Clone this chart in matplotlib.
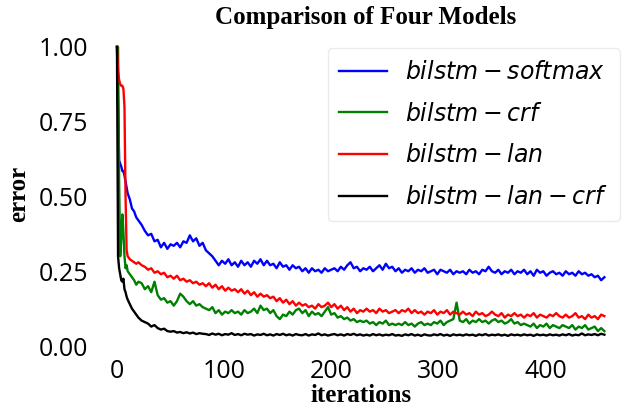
import matplotlib
matplotlib.use("Agg")
import matplotlib.pyplot as plt

iterations = list(range(0, 11)) + list(range(12, 21, 2)) + list(range(23, 456, 3))

softmax_err = [1.00, 0.80, 0.62, 0.61, 0.60, 0.585, 0.585, 0.57, 0.55, 0.53, 0.51, 0.49, 0.46, 0.45, 0.43, 0.42,
    0.405, 0.385, 0.37, 0.375, 0.35, 0.355, 0.33, 0.345, 0.325, 0.34,
    0.335, 0.345, 0.33, 0.35, 0.345, 0.37, 0.35, 0.36, 0.335, 0.345,
    0.32, 0.31, 0.30, 0.285, 0.27, 0.285, 0.275, 0.29, 0.27, 0.28,
    0.265, 0.285, 0.27, 0.28, 0.265, 0.285, 0.275, 0.29, 0.27, 0.285,
    0.27, 0.275, 0.26, 0.28, 0.265, 0.27, 0.255, 0.27, 0.26, 0.265,
    0.25, 0.26, 0.245, 0.26, 0.25, 0.255, 0.245, 0.26, 0.25, 0.255,
    0.26, 0.25, 0.265, 0.255, 0.27, 0.28, 0.26, 0.265, 0.25, 0.26,
    0.255, 0.265, 0.25, 0.26, 0.27, 0.255, 0.275, 0.26, 0.265, 0.25,
    0.26, 0.245, 0.255, 0.25, 0.26, 0.245, 0.255, 0.25, 0.26, 0.245,
    0.25, 0.255, 0.24, 0.255, 0.25, 0.245, 0.255, 0.24, 0.25, 0.245,
    0.25, 0.24, 0.255, 0.245, 0.25, 0.24, 0.255, 0.25, 0.265, 0.25,
    0.245, 0.255, 0.24, 0.25, 0.245, 0.255, 0.24, 0.25, 0.245, 0.255,
    0.24, 0.25, 0.235, 0.255, 0.245, 0.25, 0.235, 0.245, 0.25, 0.24,
    0.245, 0.235, 0.25, 0.24, 0.245, 0.235, 0.25, 0.24, 0.245, 0.235,
    0.24, 0.23, 0.235, 0.22, 0.23]

crf_err = [1.00, 1.00, 0.55, 0.30, 0.36, 0.44, 0.38, 0.30, 0.26, 0.27, 0.25, 0.24, 0.23, 0.22, 0.205, 0.215,
    0.21, 0.19, 0.20, 0.18, 0.215, 0.17, 0.155, 0.16, 0.145, 0.15,
    0.135, 0.15, 0.175, 0.165, 0.15, 0.14, 0.15, 0.135, 0.14, 0.13,
    0.125, 0.12, 0.13, 0.11, 0.12, 0.105, 0.115, 0.11, 0.12, 0.11,
    0.115, 0.105, 0.12, 0.11, 0.115, 0.125, 0.11, 0.135, 0.12, 0.125,
    0.11, 0.12, 0.10, 0.09, 0.105, 0.10, 0.115, 0.105, 0.12, 0.125,
    0.11, 0.12, 0.10, 0.115, 0.105, 0.11, 0.10, 0.115, 0.13, 0.105,
    0.11, 0.095, 0.10, 0.09, 0.095, 0.085, 0.09, 0.08, 0.085, 0.08,
    0.085, 0.075, 0.08, 0.07, 0.08, 0.075, 0.085, 0.07, 0.075, 0.07,
    0.075, 0.07, 0.08, 0.07, 0.075, 0.065, 0.075, 0.08, 0.07, 0.075,
    0.07, 0.08, 0.075, 0.085, 0.07, 0.08, 0.085, 0.09, 0.145, 0.085,
    0.08, 0.09, 0.075, 0.085, 0.08, 0.09, 0.08, 0.085, 0.075, 0.085,
    0.09, 0.08, 0.085, 0.075, 0.08, 0.09, 0.075, 0.08, 0.07, 0.075,
    0.07, 0.065, 0.075, 0.06, 0.07, 0.065, 0.075, 0.06, 0.07, 0.065,
    0.06, 0.07, 0.065, 0.06, 0.07, 0.055, 0.065, 0.06, 0.07, 0.055,
    0.06, 0.065, 0.05, 0.06, 0.05]

lan_err = [1.00, 0.92, 0.89, 0.875, 0.87, 0.87, 0.86, 0.80, 0.50, 0.32, 0.30, 0.29, 0.285, 0.28, 0.275, 0.28,
    0.27, 0.265, 0.255, 0.26, 0.245, 0.25, 0.24, 0.245, 0.23, 0.235,
    0.225, 0.235, 0.22, 0.225, 0.215, 0.22, 0.21, 0.215, 0.205, 0.21,
    0.20, 0.21, 0.195, 0.205, 0.19, 0.20, 0.185, 0.195, 0.185, 0.19,
    0.18, 0.19, 0.175, 0.185, 0.17, 0.18, 0.165, 0.175, 0.165, 0.17,
    0.16, 0.165, 0.15, 0.16, 0.145, 0.155, 0.14, 0.15, 0.135, 0.145,
    0.135, 0.14, 0.13, 0.135, 0.125, 0.14, 0.13, 0.135, 0.145, 0.13,
    0.14, 0.125, 0.135, 0.12, 0.13, 0.115, 0.125, 0.11, 0.12, 0.115,
    0.125, 0.115, 0.12, 0.11, 0.125, 0.115, 0.12, 0.11, 0.115, 0.12,
    0.11, 0.12, 0.115, 0.125, 0.11, 0.12, 0.11, 0.115, 0.105, 0.115,
    0.11, 0.12, 0.105, 0.115, 0.11, 0.12, 0.105, 0.115, 0.11, 0.105,
    0.115, 0.105, 0.11, 0.10, 0.115, 0.105, 0.11, 0.10, 0.105, 0.115,
    0.105, 0.10, 0.11, 0.095, 0.105, 0.10, 0.11, 0.10, 0.105, 0.095,
    0.105, 0.10, 0.11, 0.095, 0.105, 0.10, 0.095, 0.105, 0.10, 0.11,
    0.10, 0.095, 0.105, 0.095, 0.10, 0.11, 0.095, 0.10, 0.09, 0.105,
    0.095, 0.10, 0.09, 0.105, 0.10]

lan_crf_err = [1.00, 0.30, 0.26, 0.24, 0.22, 0.215, 0.225, 0.19, 0.18, 0.165, 0.155, 0.14, 0.125, 0.115, 0.105, 0.095,
    0.085, 0.08, 0.075, 0.065, 0.07, 0.06, 0.055, 0.058, 0.05, 0.048,
    0.05, 0.045, 0.047, 0.043, 0.046, 0.042, 0.045, 0.04, 0.043, 0.041,
    0.04, 0.037, 0.042, 0.038, 0.041, 0.036, 0.04, 0.038, 0.043, 0.037,
    0.04, 0.036, 0.041, 0.038, 0.04, 0.035, 0.039, 0.037, 0.041, 0.036,
    0.039, 0.035, 0.04, 0.037, 0.041, 0.036, 0.039, 0.035, 0.04, 0.037,
    0.036, 0.04, 0.035, 0.039, 0.037, 0.042, 0.036, 0.039, 0.035, 0.038,
    0.04, 0.036, 0.039, 0.035, 0.04, 0.037, 0.041, 0.036, 0.039, 0.035,
    0.038, 0.035, 0.04, 0.036, 0.039, 0.035, 0.038, 0.036, 0.04, 0.035,
    0.037, 0.034, 0.039, 0.036, 0.04, 0.035, 0.038, 0.034, 0.039, 0.036,
    0.035, 0.039, 0.036, 0.04, 0.035, 0.038, 0.034, 0.039, 0.036, 0.038,
    0.035, 0.039, 0.036, 0.038, 0.034, 0.039, 0.036, 0.04, 0.035, 0.038,
    0.036, 0.039, 0.035, 0.038, 0.034, 0.039, 0.036, 0.038, 0.035, 0.039,
    0.036, 0.038, 0.034, 0.039, 0.036, 0.038, 0.035, 0.039, 0.036, 0.038,
    0.035, 0.039, 0.036, 0.04, 0.035, 0.038, 0.036, 0.042, 0.036, 0.039,
    0.037, 0.04, 0.036, 0.041, 0.038]

labels = [r"$bilstm-softmax$", r"$bilstm-crf$", r"$bilstm-lan$", r"$bilstm-lan-crf$"]
colors = ["blue", "green", "red", "black"]
series = [softmax_err, crf_err, lan_err, lan_crf_err]

fig = plt.figure(figsize=(6.3, 4.09), dpi=100)
ax = fig.add_axes([0.147, 0.132, 0.851, 0.79])
for ys, lab, c in zip(series, labels, colors):
    ax.plot(iterations, ys, color=c, lw=1.7, label=lab)

ax.set_xlim(-22.75, 477.75)
ax.set_ylim(-0.03, 1.05)
ax.set_xticks([0, 100, 200, 300, 400])
ax.set_yticks([0.0, 0.25, 0.5, 0.75, 1.0])
ax.set_yticklabels(["0.00", "0.25", "0.50", "0.75", "1.00"])
for s in ax.spines.values():
    s.set_visible(False)
ax.tick_params(length=0, labelsize=18, pad=3)
for t in ax.get_xticklabels() + ax.get_yticklabels():
    t.set_fontfamily("Open Sans")

ax.set_title("Comparison of Four Models", fontfamily="Liberation Serif",
             fontweight="bold", fontsize=18, pad=6, x=0.51)
ax.set_xlabel("iterations", fontfamily="Liberation Serif", fontweight="bold",
              fontsize=18, labelpad=0)
ax.set_ylabel("error", fontfamily="Liberation Serif", fontweight="bold",
              fontsize=18, labelpad=6)

leg = ax.legend(loc="upper right", bbox_to_anchor=(620 / 630, (409 - 48) / 409),
                bbox_transform=fig.transFigure, borderaxespad=0, fontsize=17,
                handlelength=2.0, labelspacing=0.75, frameon=True, fancybox=True,
                edgecolor="#e6e6e6", borderpad=0.5)

fig.savefig("out.png", dpi=100)
